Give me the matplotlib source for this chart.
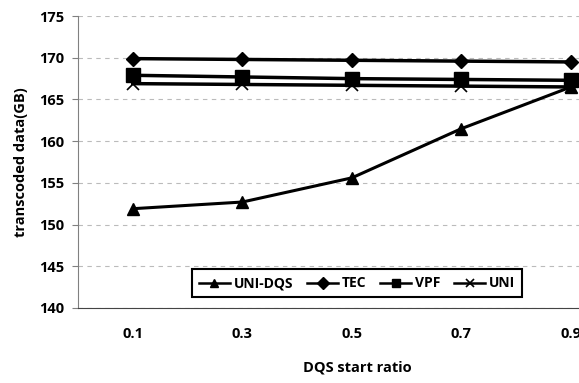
import matplotlib.pyplot as plt
import numpy as np

ratios = ["0.1", "0.3", "0.5", "0.7", "0.9"]
uni_dqs = [151.9, 152.7, 155.6, 161.5, 166.5]
tec = [169.9, 169.8, 169.7, 169.6, 169.5]
vpf = [167.9, 167.7, 167.5, 167.4, 167.3]
uni = [166.9, 166.8, 166.7, 166.6, 166.5]

plt.rcParams['font.family'] = ['Open Sans', 'DejaVu Sans']
plt.rcParams['font.weight'] = 'bold'

fig = plt.figure(figsize=(5.79, 3.83), dpi=100)
ax = fig.add_axes([0.1347, 0.196, 0.946, 0.762])
x = np.arange(len(ratios))

ax.plot(x, uni_dqs, "k-", marker="^", markersize=8, linewidth=2.2, label="UNI-DQS")
ax.plot(x, tec, "k-", marker="D", markersize=7, linewidth=2.5, label="TEC")
ax.plot(x, vpf, "k-", marker="s", markersize=10, linewidth=2.5, label="VPF")
ax.plot(x, uni, "k-", marker="x", markersize=9, markeredgewidth=1.2, linewidth=2.5, label="UNI")

ax.set_xlim(-0.5, 4.5)
ax.set_ylim(140, 175)
ax.set_yticks(range(140, 176, 5))
ax.set_xticks(x)
ax.set_xticklabels(ratios)
ax.tick_params(axis='x', length=0, pad=14, labelsize=10.5)
ax.tick_params(axis='y', length=4, color='gray', labelsize=10.5, pad=6)
ax.yaxis.grid(True, linestyle=(0, (4, 4)), color='#bbbbbb', linewidth=0.8)
ax.set_axisbelow(True)
for s in ['top', 'right']:
    ax.spines[s].set_visible(False)
ax.spines['left'].set_color('gray')
ax.spines['bottom'].set_color('#444444')

ax.set_ylabel("transcoded data(GB)", fontsize=10.5, fontweight='bold', labelpad=8)
fig.text(0.617, 0.03, "DQS start ratio", ha='center', fontsize=10.5, fontweight='bold')

leg = ax.legend(ncol=4, loc='center', bbox_to_anchor=(0.617, 0.26),
                bbox_transform=fig.transFigure, fancybox=False, framealpha=1,
                edgecolor='black', fontsize=10, handlelength=2.2,
                columnspacing=1.0, handletextpad=0.3, borderpad=0.5)
leg.get_frame().set_linewidth(1.5)
for h in leg.legend_handles:
    h.set_linewidth(1.8)
    h.set_markersize(6)

fig.savefig("out.png", dpi=100)
